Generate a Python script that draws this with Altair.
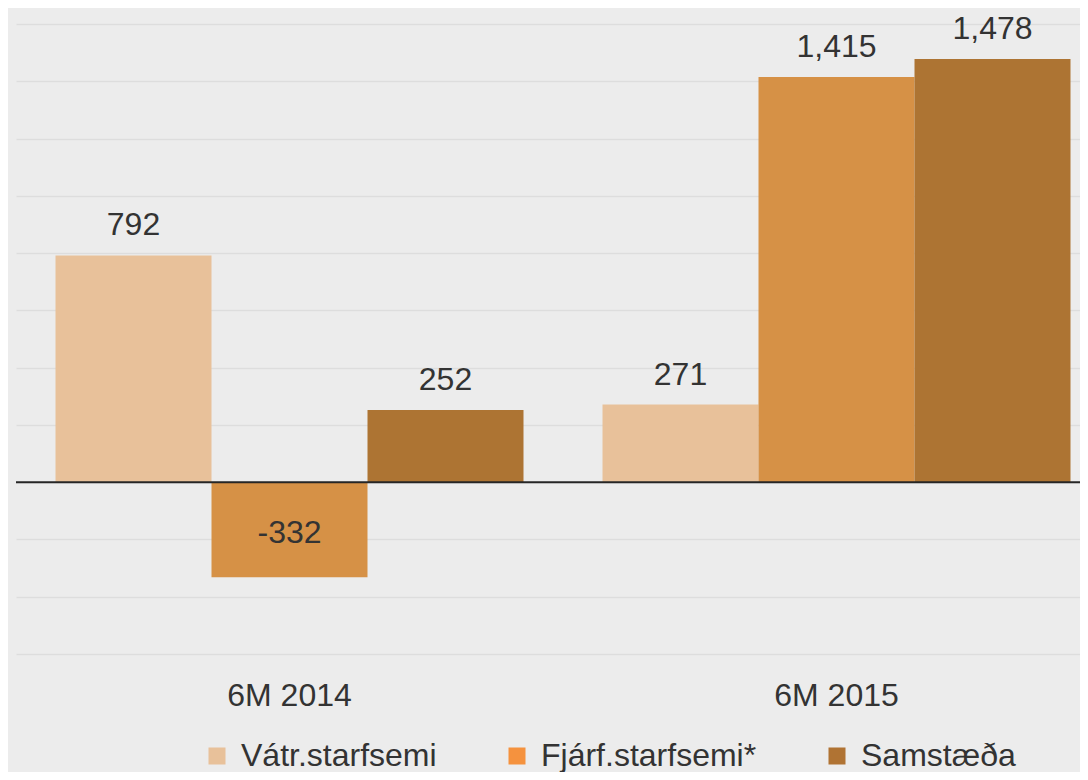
import altair as alt
import pandas as pd

periods = ["6M 2014", "6M 2015"]
series = ["Vátr.starfsemi", "Fjárf.starfsemi", "Samstæða"]
legend_names = ["Vátr.starfsemi", "Fjárf.starfsemi*", "Samstæða"]
values_2014 = [792, -332, 252]
values_2015 = [271, 1415, 1478]
labels_2014 = ["792", "-332", "252"]
labels_2015 = ["271", "1,415", "1,478"]
bar_colors = ["#e8c19a", "#d69146", "#ad7433"]
legend_colors = ["#e8c19a", "#f5923e", "#b07333"]
y_ticks = [-600, -400, -200, 0, 200, 400, 600, 800, 1000, 1200, 1400, 1600]

rows = []
for p, vals, labs in zip(periods, [values_2014, values_2015], [labels_2014, labels_2015]):
    for s, ln, v, l in zip(series, legend_names, vals, labs):
        rows.append({"period": p, "series": s, "legend_name": ln, "value": v, "label": l})
df = pd.DataFrame(rows)

FONT = "Liberation Sans"
TEXT_COLOR = "#333333"
FS = 32

x_axis = alt.Axis(
    title=None, labelFontSize=FS, labelFont=FONT, labelColor=TEXT_COLOR,
    labelPadding=26, ticks=False, tickSize=0, domain=False, grid=False, labelAngle=0,
)
x_enc = alt.X(
    "period:N",
    sort=periods,
    scale=alt.Scale(range=[0, 1094], paddingInner=0.1444, paddingOuter=0.0722),
    axis=x_axis,
)
xoff_enc = alt.XOffset("series:N", sort=series, scale=alt.Scale(paddingInner=0, paddingOuter=0))
y_scale = alt.Scale(domain=[-600, 1600], nice=False, zero=False)
y_axis = alt.Axis(values=y_ticks, labels=False, ticks=False, domain=False, title=None,
                  grid=True, gridColor="#dddddd", gridWidth=1.5)

base = alt.Chart(df)

bars = base.mark_bar().encode(
    x=x_enc,
    xOffset=xoff_enc,
    y=alt.Y("value:Q", scale=y_scale, axis=y_axis),
    color=alt.Color("series:N", sort=series,
                    scale=alt.Scale(domain=series, range=bar_colors), legend=None),
)

legend_layer = base.mark_square(opacity=0, size=10).encode(
    x=x_enc,
    xOffset=xoff_enc,
    y=alt.Y("value:Q", scale=y_scale, axis=y_axis),
    fill=alt.Fill(
        "legend_name:N", sort=legend_names,
        scale=alt.Scale(domain=legend_names, range=legend_colors),
        legend=alt.Legend(
            title=None, orient="none", legendX=185, legendY=716, direction="horizontal",
            symbolType="square", symbolSize=289, symbolStrokeWidth=0, symbolOpacity=1,
            labelFontSize=FS, labelFont=FONT, labelColor=TEXT_COLOR, labelOffset=8,
            columnPadding=64, labelLimit=500, padding=0,
        ),
    ),
)

zero_rule = base.transform_filter("datum.label == '792'").transform_calculate(
    zero="0"
).mark_rule(color="#262626", strokeWidth=2).encode(
    y=alt.Y("zero:Q", scale=y_scale, axis=y_axis)
)

pos_text = base.transform_filter("datum.value >= 0").mark_text(
    dy=-20, baseline="alphabetic", fontSize=FS, font=FONT, color=TEXT_COLOR
).encode(
    x=x_enc, xOffset=xoff_enc,
    y=alt.Y("value:Q", scale=y_scale, axis=y_axis),
    text="label:N",
)

neg_text = base.transform_filter("datum.value < 0").transform_calculate(
    mid="datum.value / 2"
).mark_text(
    dy=13, baseline="alphabetic", fontSize=FS, font=FONT, color=TEXT_COLOR
).encode(
    x=x_enc, xOffset=xoff_enc,
    y=alt.Y("mid:Q", scale=y_scale, axis=y_axis),
    text="label:N",
)

chart = alt.layer(bars, zero_rule, pos_text, neg_text, legend_layer).properties(
    width=1064,
    height=630,
    background="#ececec",
    padding={"left": 8, "top": 16, "right": 0, "bottom": 118},
    autosize=alt.AutoSizeParams(type="none"),
).configure_view(stroke=None)

chart.save("out.html", embed_options={"renderer": "svg", "actions": False})
